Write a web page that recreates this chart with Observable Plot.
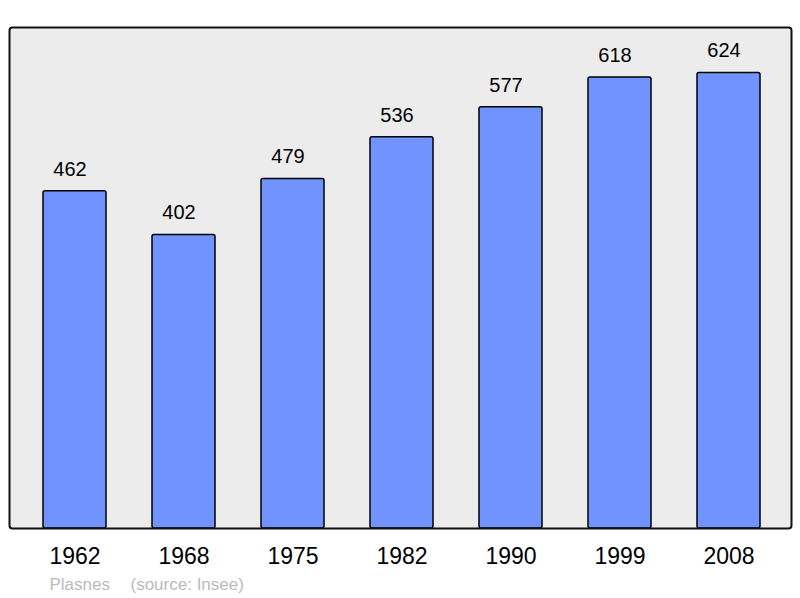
<!DOCTYPE html>
<html>
<head>
<meta charset="utf-8">
<script src="https://cdn.jsdelivr.net/npm/d3@7"></script>
<script src="https://cdn.jsdelivr.net/npm/@observablehq/plot@0.6"></script>
<style>
  html, body { margin: 0; padding: 0; background: #fff; }
</style>
</head>
<body>
<div id="chart"></div>
<script>
const years = ["1962", "1968", "1975", "1982", "1990", "1999", "2008"];
const population = [462, 402, 479, 536, 577, 618, 624];
const placeName = ["Plasnes"];
const sourceNote = ["(source: Insee)"];

const data = years.map((y, i) => ({year: y, pop: population[i]}));

const chart = Plot.plot({
  width: 800,
  height: 598,
  marginTop: 27,
  marginBottom: 70,
  marginLeft: 9,
  marginRight: 9,
  style: {fontFamily: "'Liberation Sans', Arial, sans-serif", background: "#fff", color: "#000"},
  x: {domain: years, paddingInner: 0.42, paddingOuter: 0.28, align: 0.53, axis: null},
  y: {domain: [0, 686.4], axis: null},
  marks: [
    Plot.frame({fill: "#ececec"}),
    Plot.barY(data, {x: "year", y: "pop", fill: "#7093ff", stroke: "#000", strokeWidth: 1.5, rx: 2}),
    Plot.frame({stroke: "#111", strokeWidth: 2, rx: 3}),
    Plot.text(data, {x: "year", y: "pop", text: d => String(d.pop), dy: -22, dx: -5, fontSize: 20, fill: "#000"}),
    Plot.text(data, {x: "year", frameAnchor: "bottom", text: "year", dy: 35, fontSize: 23, fill: "#000"}),
    Plot.text(placeName, {frameAnchor: "bottom-left", text: d => d, dx: 40, dy: 61, textAnchor: "start", fontSize: 17, fill: "#bbbbbb"}),
    Plot.text(sourceNote, {frameAnchor: "bottom-left", text: d => d, dx: 121, dy: 61, textAnchor: "start", fontSize: 17, fill: "#bbbbbb"})
  ]
});
document.getElementById("chart").appendChild(chart);
</script>
</body>
</html>
